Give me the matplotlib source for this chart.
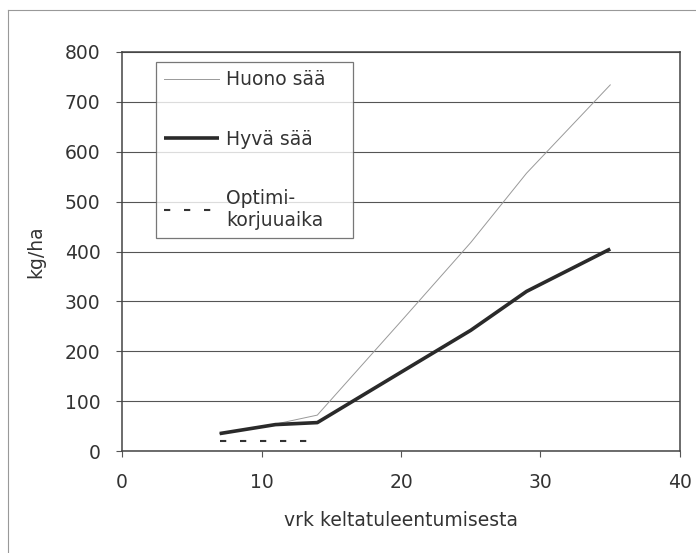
import matplotlib.pyplot as plt
from matplotlib.lines import Line2D

plt.rcParams['font.family'] = ['DejaVu Sans']

# vuorokautta keltatuleentumisesta / varisemistappio kg/ha
paivat = [7, 11, 14, 20, 25, 29, 35]
huono_saa = [35, 54, 72, 260, 418, 557, 734]
hyva_saa = [35, 53, 57, 158, 242, 320, 405]

optimi_paivat = [7, 14]
optimi_taso = [20, 20]

xticks = [0, 10, 20, 30, 40]
yticks = [0, 100, 200, 300, 400, 500, 600, 700, 800]

tekstivari = '#333333'
koko = 13.5

fig = plt.figure(figsize=(6.96, 5.53), dpi=100)
ax = fig.add_axes([0.1753, 0.1844, 0.977 - 0.1753, 0.906 - 0.1844])

ax.plot(paivat, huono_saa, color='#999999', lw=0.7, label='Huono sää')
ax.plot(paivat, hyva_saa, color='#2a2a2a', lw=2.6, label='Hyvä sää', solid_capstyle='butt')
ax.plot(optimi_paivat, optimi_taso, color='#333333', lw=1.5, dashes=(3, 6.6),
        label='Optimi-\nkorjuuaika')

ax.set_xlim(0, 40)
ax.set_ylim(0, 800)
ax.set_xticks(xticks)
ax.set_yticks(yticks)
ax.yaxis.grid(True, color='#555555', lw=0.8)
ax.set_axisbelow(True)

for s in ax.spines.values():
    s.set_color('#444444')
    s.set_linewidth(1.1)

ax.tick_params(direction='out', length=4, width=0.8, color='#555555',
               labelsize=koko, labelcolor=tekstivari, pad=11.5)
ax.set_xlabel('vrk keltatuleentumisesta', fontsize=koko, color=tekstivari, labelpad=14)
ax.set_ylabel('kg/ha', fontsize=koko, color=tekstivari, labelpad=14)

# selite levennetään kiinteään leveyteen
leg = ax.legend(loc='upper left', bbox_to_anchor=(0.061, 0.5, 0.353, 0.475),
                mode='expand', fontsize=koko, frameon=True, fancybox=False,
                labelspacing=2.15, handlelength=2.9, handletextpad=0.37,
                borderpad=0.45, borderaxespad=0)
leg.get_frame().set_edgecolor('#555555')
leg.get_frame().set_linewidth(0.9)
for t in leg.get_texts():
    t.set_color(tekstivari)

# kuvan reunaviivat ylhäällä ja vasemmalla
fig.add_artist(Line2D([8 / 696, 1], [1 - 10 / 553, 1 - 10 / 553],
                      transform=fig.transFigure, color='#999999', lw=0.8))
fig.add_artist(Line2D([8 / 696, 8 / 696], [0, 1 - 10 / 553],
                      transform=fig.transFigure, color='#999999', lw=0.8))

fig.savefig('out.png', dpi=100)
